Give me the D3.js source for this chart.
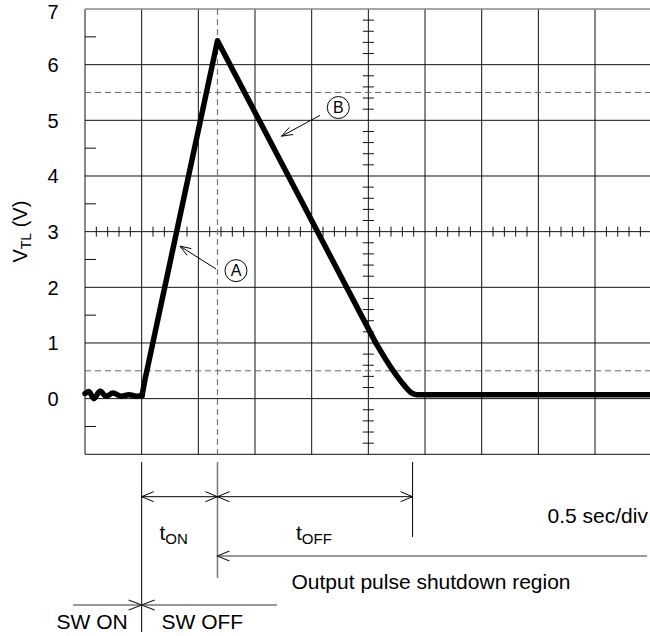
<!DOCTYPE html>
<html><head><meta charset="utf-8">
<script src="https://cdn.jsdelivr.net/npm/d3@7"></script>
<style>html,body{margin:0;padding:0;background:#fff;}svg{display:block;}</style>
</head><body>
<svg id="c" width="650" height="636"></svg>
<script>
// ---- data (time in seconds at 0.5 sec/div, voltage in V) ----
const secPerDiv = 0.5;
const nDiv = 10;
const yTickLabels = [0, 1, 2, 3, 4, 5, 6, 7];
const yHalfTicks = [6.5, 4.5, 3.5, 2.5, 1.5, -0.5];
const dashedV = [5.5, 0.5];
const peakTime = 1.169;
// noisy baseline before switch
const noiseT = [0, 0.035, 0.079, 0.132, 0.185, 0.247, 0.318, 0.388, 0.45, 0.503];
const noiseV = [0.09, 0.126, 0.0, 0.135, 0.045, 0.10, 0.045, 0.07, 0.045, 0.054];
// ramp up and linear decay
const rampT = [0.503, 0.529, 1.169, 2.563];
const rampV = [0.054, 0.34, 6.43, 1.011];
// rounded tail into the shutdown level
const tailT = [2.563, 2.718, 2.824, 2.877, 2.93, 5.0];
const tailV = [1.011, 0.503, 0.221, 0.108, 0.072, 0.072];
// markers A, B: circle center, arrow start, arrow tip (t, V)
const markerLabels = ["A", "B"];
const markerCenter = [[1.332, 2.30], [2.235, 5.23]];
const markerFrom = [[1.156, 2.33], [2.074, 5.09]];
const markerTo = [[0.838, 2.74], [1.734, 4.715]];
const tOnStart = 0.5, tOffEnd = 2.89;

const svg = d3.select("#c");
const FONT = "'Liberation Sans', Arial, Helvetica, sans-serif";
const x = d3.scaleLinear().domain([0, nDiv * secPerDiv]).range([85, 651.7]);
const y = d3.scaleLinear().domain([-1, 7]).range([454.3, 9]);
const X0 = x(0), X1 = x(nDiv * secPerDiv), Y0 = y(-1), Y1 = y(7);

// ---- grid ----
const g = svg.append("g");
const vGrid = d3.range(0, nDiv + 1).map(i => i * secPerDiv);
g.selectAll("line.vg").data(vGrid).join("line")
  .attr("x1", d => x(d)).attr("x2", d => x(d)).attr("y1", Y1).attr("y2", Y0)
  .attr("stroke", "#111").attr("stroke-width", 1);
g.selectAll("line.hg").data(d3.range(-1, 8)).join("line").attr("class","hg")
  .attr("x1", X0).attr("x2", X1).attr("y1", d => y(d)).attr("y2", d => y(d))
  .attr("stroke", d => d === 7 ? "#888" : "#111").attr("stroke-width", d => d === 7 ? 1.5 : 1);
// dashed lines
g.selectAll("line.dh").data(dashedV).join("line").attr("class","dh")
  .attr("x1", X0).attr("x2", X1).attr("y1", d => y(d)).attr("y2", d => y(d))
  .attr("stroke", "#666").attr("stroke-width", 1).attr("stroke-dasharray", "6,4");
g.append("line").attr("x1", x(peakTime)).attr("x2", x(peakTime)).attr("y1", Y1).attr("y2", Y0)
  .attr("stroke", "#777").attr("stroke-width", 1.2).attr("stroke-dasharray", "6,4");
// left half ticks
g.selectAll("line.lt").data(yHalfTicks).join("line").attr("class","lt")
  .attr("x1", X0).attr("x2", X0 + 11).attr("y1", d => y(d)).attr("y2", d => y(d))
  .attr("stroke", "#111").attr("stroke-width", 1);
// center crosshair minor ticks
const minorT = d3.range(0, 51).map(i => i * 0.1).filter(d => Math.abs(d / 0.5 - Math.round(d / 0.5)) > 1e-6);
g.selectAll("line.mt").data(minorT).join("line").attr("class","mt")
  .attr("x1", d => x(d)).attr("x2", d => x(d)).attr("y1", y(3) - 5).attr("y2", y(3) + 5)
  .attr("stroke", "#111").attr("stroke-width", 1);
const minorV = d3.range(0, 41).map(i => -1 + i * 0.2).filter(d => Math.abs(d - Math.round(d)) > 1e-6);
g.selectAll("line.mv").data(minorV).join("line").attr("class","mv")
  .attr("x1", x(2.5) - 5.5).attr("x2", x(2.5) + 5.5).attr("y1", d => y(d)).attr("y2", d => y(d))
  .attr("stroke", "#111").attr("stroke-width", 1);

// ---- y tick labels ----
svg.selectAll("text.yl").data(yTickLabels).join("text").attr("class","yl")
  .attr("x", 53).attr("y", d => Math.max(y(d) + 7.2, 18.5))
  .attr("text-anchor", "middle").attr("font-family", FONT).attr("font-size", 20)
  .text(d => d);
// y title
const yt = svg.append("text").attr("transform", `translate(27,${y(3)}) rotate(-90)`)
  .attr("text-anchor", "middle").attr("font-family", FONT).attr("font-size", 20);
yt.append("tspan").text("V");
yt.append("tspan").attr("font-size", 14).attr("dy", 4).text("TL");
yt.append("tspan").attr("dy", -4).text(" (V)");

// ---- trace ----
const noise = noiseT.map((t, i) => [t, noiseV[i]]);
const ramp = rampT.map((t, i) => [t, rampV[i]]);
const tail = tailT.map((t, i) => [t, tailV[i]]);
const traceStyle = p => p.attr("fill", "none").attr("stroke", "#000").attr("stroke-width", 5.5)
  .attr("stroke-linejoin", "round").attr("stroke-linecap", "round");
svg.append("path").datum(noise)
  .attr("d", d3.line().x(d => x(d[0])).y(d => y(d[1])).curve(d3.curveCatmullRom)).call(traceStyle);
svg.append("path").datum(ramp)
  .attr("d", d3.line().x(d => x(d[0])).y(d => y(d[1])).curve(d3.curveLinear)).call(traceStyle);
svg.append("path").datum(tail)
  .attr("d", d3.line().x(d => x(d[0])).y(d => y(d[1])).curve(d3.curveMonotoneX)).call(traceStyle);

// ---- arrows helper ----
function openHead(sel, tx, ty, ang, len, half, color, w) {
  const c = Math.cos(ang), s = Math.sin(ang);
  const bx = tx - c * len, by = ty - s * len;
  sel.append("polyline")
    .attr("points", `${bx - s * half},${by + c * half} ${tx},${ty} ${bx + s * half},${by - c * half}`)
    .attr("fill", "none").attr("stroke", color).attr("stroke-width", w);
}
// markers
markerLabels.forEach((lab, i) => {
  const cx = x(markerCenter[i][0]), cy = y(markerCenter[i][1]);
  svg.append("circle").attr("cx", cx).attr("cy", cy).attr("r", 11)
    .attr("fill", "#fff").attr("stroke", "#000").attr("stroke-width", 1);
  svg.append("text").attr("x", cx).attr("y", cy).attr("dy", "0.36em").attr("text-anchor", "middle")
    .attr("font-family", FONT).attr("font-size", 16).text(lab);
  const fx = x(markerFrom[i][0]), fy = y(markerFrom[i][1]);
  const tx = x(markerTo[i][0]), ty = y(markerTo[i][1]);
  svg.append("line").attr("x1", fx).attr("y1", fy).attr("x2", tx).attr("y2", ty)
    .attr("stroke", "#000").attr("stroke-width", 1);
  openHead(svg, tx, ty, Math.atan2(ty - fy, tx - fx), 11, 4, "#000", 1);
});

// ---- timing annotations ----
const a = svg.append("g");
const xOn = x(tOnStart), xPk = x(peakTime), xOff = x(tOffEnd);
a.append("line").attr("x1", xOn).attr("x2", xOn).attr("y1", 462).attr("y2", 632).attr("stroke", "#000").attr("stroke-width", 1);
a.append("line").attr("x1", xPk).attr("x2", xPk).attr("y1", 462).attr("y2", 578).attr("stroke", "#777").attr("stroke-width", 1.5);
a.append("line").attr("x1", xOff).attr("x2", xOff).attr("y1", 462).attr("y2", 537).attr("stroke", "#000").attr("stroke-width", 1);
const yArr = 496.7;
a.append("line").attr("x1", xOn).attr("x2", xOff).attr("y1", yArr).attr("y2", yArr).attr("stroke", "#000").attr("stroke-width", 1);
openHead(a, xOn, yArr, Math.PI, 12, 5, "#000", 1);
openHead(a, xPk, yArr, 0, 12, 5, "#000", 1);
openHead(a, xPk, yArr, Math.PI, 12, 5, "#000", 1);
openHead(a, xOff, yArr, 0, 12, 5, "#000", 1);
// t_ON, t_OFF
function subText(sel, xx, yy, main, sub) {
  const t = sel.append("text").attr("x", xx).attr("y", yy).attr("font-family", FONT).attr("font-size", 21);
  t.append("tspan").text(main);
  t.append("tspan").attr("font-size", 15).attr("dy", 4).text(sub);
}
subText(a, 159.5, 540, "t", "ON");
subText(a, 296, 540, "t", "OFF");
a.append("text").attr("x", 547.5).attr("y", 522.5).attr("font-family", FONT).attr("font-size", 21).text("0.5 sec/div");
// output pulse shutdown region
const yShut = 556;
a.append("line").attr("x1", xPk).attr("x2", 647).attr("y1", yShut).attr("y2", yShut).attr("stroke", "#777").attr("stroke-width", 1.5);
openHead(a, xPk, yShut, Math.PI, 12, 5, "#222", 1.2);
a.append("text").attr("x", 291.5).attr("y", 588.5).attr("font-family", FONT).attr("font-size", 21).text("Output pulse shutdown region");
// SW ON / SW OFF
const ySw = 605;
a.append("line").attr("x1", 73).attr("x2", 277).attr("y1", ySw).attr("y2", ySw).attr("stroke", "#777").attr("stroke-width", 1.5);
openHead(a, xOn, ySw, 0, 13, 5, "#222", 1.2);
openHead(a, xOn, ySw, Math.PI, 13, 5, "#222", 1.2);
a.append("text").attr("x", 56.5).attr("y", 628.5).attr("font-family", FONT).attr("font-size", 21).text("SW ON");
a.append("text").attr("x", 161.5).attr("y", 628.5).attr("font-family", FONT).attr("font-size", 21).text("SW OFF");
</script>
</body></html>
